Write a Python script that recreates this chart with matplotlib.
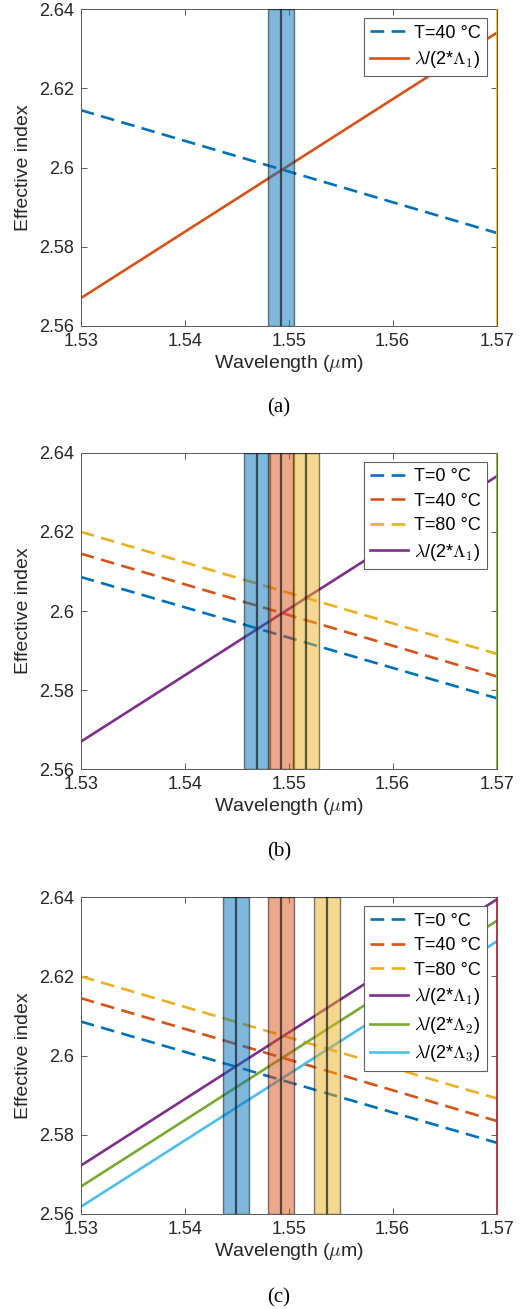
import matplotlib
matplotlib.use("Agg")
import matplotlib.pyplot as plt
from matplotlib.colors import to_rgba

plt.rcParams['font.family'] = ['Liberation Sans', 'DejaVu Sans']
plt.rcParams['mathtext.fontset'] = 'cm'

# MATLAB default colour order
c_blue = '#0072BD'
c_orange = '#D95319'
c_yellow = '#EDB120'
c_purple = '#7E2F8E'
c_green = '#77AC30'
c_cyan = '#4DBEEE'
c_red = '#A2142F'

wl = [1.53, 1.57]

# effective index at the two ends of the wavelength range
neff_T0 = [2.6086, 2.5780]
neff_T40 = [2.6145, 2.5835]
neff_T80 = [2.6200, 2.5892]

# lambda/(2*Lambda) lines
bragg_a1 = [2.5670, 2.6340]
bragg_c1 = [2.5722, 2.6394]
bragg_c2 = [2.5669, 2.6340]
bragg_c3 = [2.5618, 2.6288]

# centre wavelengths of the crossings and band width
centres_a = [1.5493]
centres_b = [1.5470, 1.5493, 1.5517]
centres_c = [1.5449, 1.5493, 1.5537]
band_width = 0.0025

xticks = [1.53, 1.54, 1.55, 1.56, 1.57]
xlabels = ['1.53', '1.54', '1.55', '1.56', '1.57']
yticks = [2.56, 2.58, 2.60, 2.62, 2.64]
ylabels = ['2.56', '2.58', '2.6', '2.62', '2.64']

lam1 = r'$\lambda$/(2*$\Lambda_{\mathsf{1}}$)'
lam2 = r'$\lambda$/(2*$\Lambda_{\mathsf{2}}$)'
lam3 = r'$\lambda$/(2*$\Lambda_{\mathsf{3}}$)'

panels = [
    {
        'bottom': 0.751,
        'dashed': [(neff_T40, c_blue, 'T=40 °C')],
        'solid': [(bragg_a1, c_orange, lam1)],
        'bands': list(zip(centres_a, [c_blue])),
        'edge': c_yellow,
        'cap': '(a)', 'cap_y': 0.6883,
    },
    {
        'bottom': 0.4122,
        'dashed': [(neff_T0, c_blue, 'T=0 °C'), (neff_T40, c_orange, 'T=40 °C'),
                   (neff_T80, c_yellow, 'T=80 °C')],
        'solid': [(bragg_a1, c_purple, lam1)],
        'bands': list(zip(centres_b, [c_blue, c_orange, c_yellow])),
        'edge': c_green,
        'cap': '(b)', 'cap_y': 0.3493,
    },
    {
        'bottom': 0.0726,
        'dashed': [(neff_T0, c_blue, 'T=0 °C'), (neff_T40, c_orange, 'T=40 °C'),
                   (neff_T80, c_yellow, 'T=80 °C')],
        'solid': [(bragg_c1, c_purple, lam1), (bragg_c2, c_green, lam2),
                  (bragg_c3, c_cyan, lam3)],
        'bands': list(zip(centres_c, [c_blue, c_orange, c_yellow])),
        'edge': c_red,
        'cap': '(c)', 'cap_y': 0.0085,
    },
]

fig = plt.figure(figsize=(5.21, 13.09), dpi=100)

for p in panels:
    ax = fig.add_axes([0.155, p['bottom'], 0.798, 0.242])
    for vals, col, lab in p['dashed']:
        ax.plot(wl, vals, color=col, lw=1.9, linestyle=(0, (5.2, 2.8)), label=lab, zorder=2)
    for vals, col, lab in p['solid']:
        ax.plot(wl, vals, color=col, lw=1.9, label=lab, zorder=2)
    for cen, col in p['bands']:
        ax.axvspan(cen - band_width / 2, cen + band_width / 2,
                   facecolor=to_rgba(col, 0.5), edgecolor=(0, 0, 0, 0.5),
                   lw=1.0, zorder=3)
        ax.axvline(cen, color=(0.1, 0.1, 0.1, 0.7), lw=1.6, zorder=4)
    ax.axvline(wl[1], color=p['edge'], lw=1.2, zorder=5)

    ax.set_xlim(wl[0], wl[1])
    ax.set_ylim(yticks[0], yticks[-1])
    ax.set_xticks(xticks)
    ax.set_xticklabels(xlabels)
    ax.set_yticks(yticks)
    ax.set_yticklabels(ylabels)
    ax.tick_params(direction='in', top=True, right=True, length=4, width=0.6,
                   color='#404040', labelsize=13, labelcolor='#262626', pad=5)
    for s in ax.spines.values():
        s.set_color('#5a5a5a')
        s.set_linewidth(0.7)
    ax.set_xlabel(r'Wavelength ($\mu$m)', fontsize=14, color='#262626', labelpad=2)
    ax.set_ylabel('Effective index', fontsize=14, color='#262626', labelpad=5)
    leg = ax.legend(loc='upper right', fontsize=13, fancybox=False, framealpha=1,
                    edgecolor='#606060', handlelength=2.1, handletextpad=0.35,
                    labelspacing=0.42, borderaxespad=0.5, borderpad=0.35)
    leg.get_frame().set_linewidth(0.8)
    leg.set_zorder(10)
    fig.text(0.5355, p['cap_y'], p['cap'], ha='center', va='center', fontsize=15,
             family='Liberation Serif')

fig.savefig('out.png', dpi=100)
